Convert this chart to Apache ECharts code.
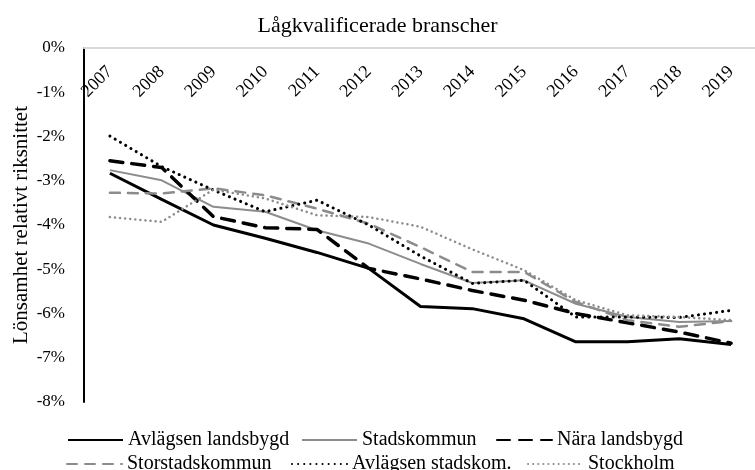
<!DOCTYPE html>
<html>
<head>
<meta charset="utf-8">
<script src="https://cdn.jsdelivr.net/npm/echarts@6/dist/echarts.min.js"></script>
<style>
  body { margin: 0; background: #fff; }
  #chart { width: 755px; height: 470px; }
</style>
</head>
<body>
<div id="chart"></div>
<script>
// years on the x axis
const years = ['2007', '2008', '2009', '2010', '2011', '2012', '2013', '2014', '2015', '2016', '2017', '2018', '2019'];

// lönsamhet relativt riksnittet, procent
const avlagsenLandsbygd = [-2.83, -3.42, -4.0, -4.3, -4.62, -4.98, -5.84, -5.89, -6.12, -6.64, -6.64, -6.57, -6.70];
const stadskommun = [-2.76, -2.99, -3.59, -3.70, -4.12, -4.42, -4.88, -5.31, -5.25, -5.78, -6.08, -6.19, -6.17];
const naraLandsbygd = [-2.55, -2.70, -3.81, -4.06, -4.10, -4.98, -5.22, -5.48, -5.70, -6.0, -6.21, -6.42, -6.67];
const storstadskommun = [-3.27, -3.29, -3.17, -3.33, -3.63, -3.97, -4.50, -5.06, -5.06, -5.74, -6.15, -6.30, -6.17];
const avlagsenStadskom = [-1.99, -2.68, -3.21, -3.70, -3.44, -4.0, -4.70, -5.32, -5.25, -6.08, -6.08, -6.09, -5.93];
const stockholm = [-3.82, -3.93, -3.20, -3.40, -3.78, -3.82, -4.04, -4.55, -5.02, -5.70, -6.04, -6.08, -6.15];

const yTicks = [0, -1, -2, -3, -4, -5, -6, -7, -8];

const serif = '"Liberation Serif", "DejaVu Serif", serif';
const chart = echarts.init(document.getElementById('chart'));

function line(name, data, color, width, dash) {
  return {
    name: name,
    type: 'line',
    data: data,
    symbol: 'none',
    lineStyle: { color: color, width: width, type: dash, cap: dash === 'solid' ? 'butt' : 'round' },
    itemStyle: { color: color }
  };
}

function legendAt(name, left, top) {
  return {
    data: [name],
    left: left,
    top: top,
    itemWidth: 55,
    itemHeight: 14,
    itemStyle: { opacity: 0 },
    textStyle: { fontFamily: serif, fontSize: 20, color: '#000' }
  };
}

const option = {
  animation: false,
  title: {
    text: 'Lågkvalificerade branscher',
    left: 'center',
    top: 10,
    textStyle: { fontFamily: serif, fontSize: 22, fontWeight: 'normal', color: '#000' }
  },
  grid: { left: 84, right: -2, top: 48, bottom: 68, outerBoundsMode: 'none', containLabel: false },
  legend: [
    legendAt('Avlägsen landsbygd', 62, 425),
    legendAt('Stadskommun', 296, 425),
    legendAt('Nära landsbygd', 491, 425),
    legendAt('Storstadskommun', 61, 449),
    legendAt('Avlägsen stadskom.', 286, 449),
    legendAt('Stockholm', 522, 449)
  ],
  xAxis: {
    type: 'category',
    data: years,
    position: 'top',
    axisLine: { lineStyle: { color: '#d9d9d9', width: 2 } },
    axisTick: { show: false },
    axisLabel: { inside: true, rotate: 45, margin: 21, fontFamily: serif, fontSize: 18, color: '#000' }
  },
  yAxis: {
    type: 'value',
    min: -8,
    max: 0,
    interval: 1,
    name: 'Lönsamhet relativt riksnittet',
    nameLocation: 'middle',
    nameGap: 52,
    nameMoveOverlap: false,
    nameTextStyle: { fontFamily: serif, fontSize: 21, color: '#000' },
    axisLine: { show: true, lineStyle: { color: '#000', width: 2 } },
    axisTick: { show: false },
    splitLine: { show: false },
    axisLabel: {
      margin: 19,
      fontFamily: serif,
      fontSize: 17,
      color: '#000',
      formatter: v => (yTicks.includes(v) ? v + '%' : '')
    }
  },
  series: [
    line('Avlägsen landsbygd', avlagsenLandsbygd, '#000', 3, 'solid'),
    line('Stadskommun', stadskommun, '#8c8c8c', 2, 'solid'),
    line('Nära landsbygd', naraLandsbygd, '#000', 3.5, [13, 9]),
    line('Storstadskommun', storstadskommun, '#8c8c8c', 2.5, [10, 8]),
    line('Avlägsen stadskom.', avlagsenStadskom, '#000', 3, [0.1, 6]),
    line('Stockholm', stockholm, '#8c8c8c', 2.5, [0.1, 5])
  ]
};

chart.setOption(option);
</script>
</body>
</html>
